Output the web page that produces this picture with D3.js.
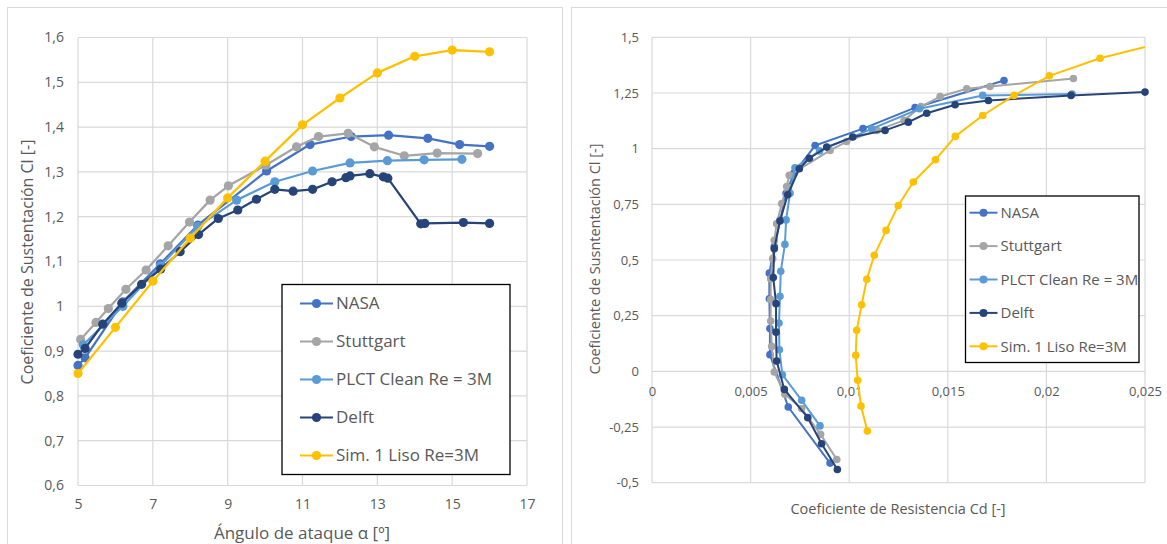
<!DOCTYPE html>
<html>
<head>
<meta charset="utf-8">
<script src="https://cdn.jsdelivr.net/npm/d3@7"></script>
<style>
  body { margin: 0; background: #fff; }
  svg { display: block; font-family: "Open Sans", sans-serif; }
</style>
</head>
<body>
<svg width="1167" height="544"></svg>
<script>
"use strict";

// Cl vs alpha  [alpha, Cl]
const nasaLift = [[5,0.868],[5.19,0.885],[6.2,1.01],[7.2,1.095],[8.2,1.181],[10.04,1.302],[11.2,1.361],[12.3,1.379],[13.3,1.382],[14.35,1.375],[15.2,1.361],[16,1.357]];
const stuttLift = [[5.07,0.926],[5.48,0.964],[5.81,0.995],[6.28,1.038],[6.82,1.081],[7.41,1.135],[7.98,1.188],[8.53,1.237],[9.02,1.269],[10.02,1.315],[10.84,1.356],[11.43,1.379],[12.22,1.386],[12.92,1.356],[13.72,1.336],[14.6,1.342],[15.68,1.341]];
const plctLift = [[5.14,0.914],[6.2,1.0],[7.2,1.09],[8.2,1.178],[9.24,1.237],[10.26,1.278],[11.27,1.302],[12.27,1.32],[13.27,1.325],[14.25,1.327],[15.26,1.328]];
const delftLift = [[5,0.893],[5.19,0.906],[5.66,0.96],[6.17,1.007],[6.7,1.049],[7.21,1.083],[7.73,1.122],[8.22,1.16],[8.75,1.196],[9.27,1.215],[9.77,1.239],[10.26,1.261],[10.75,1.257],[11.27,1.261],[11.79,1.278],[12.16,1.287],[12.27,1.291],[12.8,1.296],[13.16,1.289],[13.28,1.286],[14.16,1.184],[14.27,1.185],[15.3,1.187],[16,1.185]];
const simLift = [[5,0.85],[6,0.953],[7,1.056],[8,1.152],[9,1.242],[10,1.324],[11,1.405],[12,1.465],[13,1.521],[14,1.558],[15,1.572],[16,1.568]];

// Cl vs Cd  [Cd, Cl]
const nasaPolar = [[0.00903,-0.412],[0.00691,-0.16],[0.00598,0.075],[0.00598,0.192],[0.00595,0.326],[0.00595,0.441],[0.0062,0.56],[0.0065,0.68],[0.0068,0.8],[0.0072,0.89],[0.00827,1.014],[0.0107,1.09],[0.01334,1.184],[0.01785,1.306]];
const stuttPolar = [[0.00937,-0.396],[0.00855,-0.283],[0.00759,-0.167],[0.00674,-0.103],[0.0062,-0.003],[0.00607,0.112],[0.00602,0.226],[0.00602,0.322],[0.00602,0.416],[0.00612,0.506],[0.0062,0.588],[0.00632,0.663],[0.00658,0.753],[0.00683,0.83],[0.00696,0.88],[0.00903,0.992],[0.00987,1.032],[0.0114,1.082],[0.01278,1.127],[0.01364,1.189],[0.01461,1.234],[0.01596,1.269],[0.01714,1.279],[0.02137,1.315]];
const plctPolar = [[0.00852,-0.245],[0.00759,-0.13],[0.00661,-0.015],[0.00646,0.097],[0.00644,0.217],[0.00649,0.337],[0.00653,0.449],[0.00674,0.57],[0.0068,0.68],[0.007,0.8],[0.00725,0.914],[0.0085,0.99],[0.01114,1.089],[0.01356,1.179],[0.01677,1.239],[0.0213,1.245]];
const delftPolar = [[0.0094,-0.441],[0.0086,-0.325],[0.0079,-0.208],[0.00671,-0.081],[0.00632,0.046],[0.00629,0.176],[0.00629,0.304],[0.00615,0.421],[0.0062,0.551],[0.00649,0.675],[0.00688,0.793],[0.00747,0.91],[0.00798,0.957],[0.00886,1.007],[0.01018,1.052],[0.01182,1.082],[0.013,1.119],[0.01393,1.159],[0.01537,1.197],[0.01706,1.216],[0.02125,1.239],[0.025,1.254]];
const simPolar = [[0.01092,-0.268],[0.0106,-0.156],[0.01043,-0.04],[0.01033,0.072],[0.01038,0.184],[0.01063,0.299],[0.01089,0.413],[0.01127,0.521],[0.01187,0.633],[0.01249,0.745],[0.01325,0.85],[0.01437,0.95],[0.01538,1.055],[0.01677,1.149],[0.01836,1.239],[0.02015,1.327],[0.02272,1.406],[0.0265,1.49]];

const seriesNames = ["NASA", "Stuttgart", "PLCT Clean Re = 3M", "Delft", "Sim. 1 Liso Re=3M"];
const seriesColors = ["#4472C4", "#A5A5A5", "#5B9BD5", "#264478", "#FFC000"];

const alphaTicks = [5, 7, 9, 11, 13, 15, 17];
const clTicksLeft = [0.6, 0.7, 0.8, 0.9, 1, 1.1, 1.2, 1.3, 1.4, 1.5, 1.6];
const cdTicks = [0, 0.005, 0.01, 0.015, 0.02, 0.025];
const clTicksRight = [-0.5, -0.25, 0, 0.25, 0.5, 0.75, 1, 1.25, 1.5];

const txt = "#595959";
const grid = "#d9d9d9";
const comma = (v) => String(v).replace(".", ",");

const svg = d3.select("svg");

// marcos de los paneles
svg.append("rect").attr("x", 7.5).attr("y", 7.5).attr("width", 555).attr("height", 560)
  .attr("fill", "none").attr("stroke", grid);
svg.append("rect").attr("x", 571.5).attr("y", 7.5).attr("width", 620).attr("height", 560)
  .attr("fill", "none").attr("stroke", grid);

const drawGrid = (g, x, y, xt, yt) => {
  g.selectAll(".vg").data(xt).enter().append("line")
    .attr("x1", (d) => x(d)).attr("x2", (d) => x(d))
    .attr("y1", y.range()[0]).attr("y2", y.range()[1])
    .attr("stroke", grid).attr("stroke-width", 1.2);
  g.selectAll(".hg").data(yt).enter().append("line")
    .attr("x1", x.range()[0]).attr("x2", x.range()[1])
    .attr("y1", (d) => y(d)).attr("y2", (d) => y(d))
    .attr("stroke", grid).attr("stroke-width", 1.2);
};

const drawSeries = (g, data, color, x, y, clipId, maxX, r, lw) => {
  const line = d3.line().x((d) => x(d[0])).y((d) => y(d[1]));
  g.append("path").datum(data).attr("d", line)
    .attr("fill", "none").attr("stroke", color).attr("stroke-width", lw)
    .attr("stroke-linejoin", "round").attr("clip-path", `url(#${clipId})`);
  g.selectAll(null).data(data.filter((d) => d[0] <= maxX)).enter().append("circle")
    .attr("cx", (d) => x(d[0])).attr("cy", (d) => y(d[1])).attr("r", r)
    .attr("fill", color);
};

const drawLegend = (x0, y0, w, h, step, fs, inset, lineLen, r) => {
  const lg = svg.append("g");
  lg.append("rect").attr("x", x0).attr("y", y0).attr("width", w).attr("height", h)
    .attr("fill", "#fff").attr("stroke", "#000").attr("stroke-width", 1.3);
  seriesNames.forEach((name, i) => {
    const cy = y0 + step * 0.5 + i * step;
    const lx = x0 + inset;
    lg.append("line").attr("x1", lx).attr("x2", lx + lineLen).attr("y1", cy).attr("y2", cy)
      .attr("stroke", seriesColors[i]).attr("stroke-width", 2);
    lg.append("circle").attr("cx", lx + lineLen / 2).attr("cy", cy).attr("r", r)
      .attr("fill", seriesColors[i]);
    lg.append("text").attr("x", lx + lineLen + 3).attr("y", cy).attr("dy", "0.35em")
      .attr("font-size", fs).attr("fill", txt).text(name);
  });
};

// ---------- grafico izquierdo ----------
const xL = d3.scaleLinear().domain([5, 17]).range([78, 527]);
const yL = d3.scaleLinear().domain([0.6, 1.6]).range([485.5, 37.5]);
const gL = svg.append("g");
svg.append("clipPath").attr("id", "clipL").append("rect")
  .attr("x", 60).attr("y", 30).attr("width", 470).attr("height", 470);
drawGrid(gL, xL, yL, alphaTicks, clTicksLeft);

gL.append("g").attr("transform", "translate(0,485.5)")
  .call(d3.axisBottom(xL).tickValues(alphaTicks).tickSize(0).tickPadding(14).tickFormat(comma))
  .call((a) => a.select(".domain").remove())
  .selectAll("text").attr("fill", txt).attr("font-size", 14).attr("font-family", "Open Sans");
gL.append("g").attr("transform", "translate(78,0)")
  .call(d3.axisLeft(yL).tickValues(clTicksLeft).tickSize(0).tickPadding(14).tickFormat(comma))
  .call((a) => a.select(".domain").remove())
  .selectAll("text").attr("fill", txt).attr("font-size", 14).attr("font-family", "Open Sans");

[nasaLift, stuttLift, plctLift, delftLift, simLift].forEach((s, i) =>
  drawSeries(gL, s, seriesColors[i], xL, yL, "clipL", 17, 4.6, 2.25));

svg.append("text").attr("x", 302).attr("y", 533).attr("dy", "0.35em").attr("text-anchor", "middle")
  .attr("font-size", 17).attr("fill", txt).text("Ángulo de ataque α [º]");
svg.append("text").attr("transform", "translate(27,262) rotate(-90)").attr("dy", "0.35em")
  .attr("text-anchor", "middle").attr("font-size", 16).attr("fill", txt)
  .text("Coeficiente de Sustentación Cl [-]");

drawLegend(282, 284.5, 228, 190, 38, 17, 18, 33, 4.6);

// ---------- grafico derecho ----------
const xR = d3.scaleLinear().domain([0, 0.025]).range([652, 1145]);
const yR = d3.scaleLinear().domain([-0.5, 1.5]).range([482.7, 37.3]);
const gR = svg.append("g");
svg.append("clipPath").attr("id", "clipR").append("rect")
  .attr("x", 640).attr("y", 30).attr("width", 505).attr("height", 470);
drawGrid(gR, xR, yR, cdTicks, clTicksRight);

gR.append("g").attr("transform", `translate(0,${yR(0)})`)
  .call(d3.axisBottom(xR).tickValues(cdTicks).tickSize(0).tickPadding(15).tickFormat(comma))
  .call((a) => a.select(".domain").remove())
  .selectAll("text").attr("fill", txt).attr("font-size", 13).attr("font-family", "Open Sans");
gR.append("g").attr("transform", "translate(652,0)")
  .call(d3.axisLeft(yR).tickValues(clTicksRight).tickSize(0).tickPadding(13).tickFormat(comma))
  .call((a) => a.select(".domain").remove())
  .selectAll("text").attr("fill", txt).attr("font-size", 13).attr("font-family", "Open Sans");

[nasaPolar, stuttPolar, plctPolar, delftPolar, simPolar].forEach((s, i) =>
  drawSeries(gR, s, seriesColors[i], xR, yR, "clipR", 0.025, 3.8, 2));

svg.append("text").attr("x", 898).attr("y", 509).attr("dy", "0.35em").attr("text-anchor", "middle")
  .attr("font-size", 14.5).attr("fill", txt).text("Coeficiente de Resistencia Cd [-]");
svg.append("text").attr("transform", "translate(595,259) rotate(-90)").attr("dy", "0.35em")
  .attr("text-anchor", "middle").attr("font-size", 14.5).attr("fill", txt)
  .text("Coeficiente de Susntentación Cl [-]");

drawLegend(965.5, 196, 173.5, 166.5, 33.4, 15, 4, 28, 4);
</script>
</body>
</html>
